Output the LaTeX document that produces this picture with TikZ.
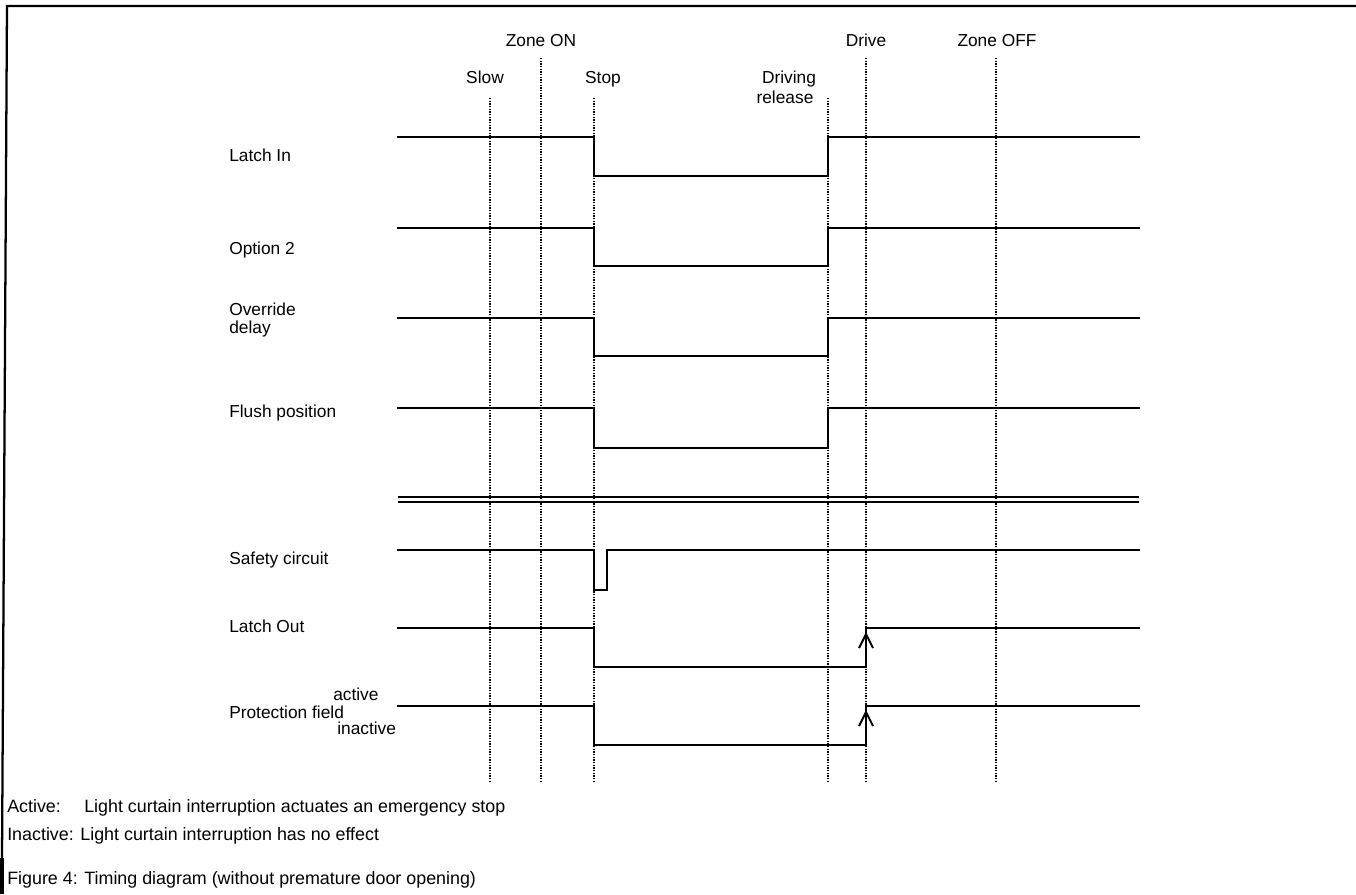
\documentclass[tikz,border=0pt]{standalone}
\usepackage{fontspec}
\setmainfont{Liberation Sans}
\begin{document}
\begin{tikzpicture}[x=0.75pt,y=-0.75pt,
  sig/.style={line width=1.5pt, line join=miter, line cap=rect},
  tline/.style={line width=1.1pt, dash pattern=on 1pt off 1pt},
  border/.style={line width=1.7pt},
  lbl/.style={anchor=base west, inner sep=0, font=\fontsize{13}{15}\selectfont},
  hdr/.style={anchor=base, inner sep=0, font=\fontsize{13}{15}\selectfont},
  note/.style={anchor=base west, inner sep=0, font=\fontsize{13.4}{16}\selectfont},
  barb/.style={line width=1.5pt, line join=miter}]
\useasboundingbox (0,0) rectangle (1356,894);

% border
\draw[border] (1356,6) -- (7,6) -- (2,860);
\draw[line width=2.4pt] (2,858) -- (2,894);

% header labels
\node[hdr] (zoneon) at (541,46) {Zone ON};
\node[hdr] (drive) at (866,46) {Drive};
\node[hdr] (zoneoff) at (997,46) {Zone OFF};
\node[hdr] (slow) at (485,83) {Slow};
\node[hdr] (stop) at (603,83) {Stop};
\node[hdr] (driving) at (789,83) {Driving};
\node[hdr] (release) at (785,103) {release};

% time markers
\coordinate (tslow) at (490,98);
\coordinate (tzon) at (541,58);
\coordinate (tstop) at (594,98);
\coordinate (trel) at (828,98);
\coordinate (tdrive) at (866,58);
\coordinate (tzoff) at (996,58);
\foreach \c in {tslow,tzon,tstop,trel,tdrive,tzoff}
  \draw[tline] (\c) -- (\c |- 0,781);

% signal labels
\node[lbl] (l1) at (229,161) {Latch In};
\node[lbl] (l2) at (229,254) {Option 2};
\node[lbl] (l3a) at (229,315) {Override};
\node[lbl] (l3b) at (229,333) {delay};
\node[lbl] (l4) at (229,417) {Flush position};
\node[lbl] (l5) at (229,564) {Safety circuit};
\node[lbl] (l6) at (229,632) {Latch Out};
\node[lbl] (l7) at (229,718) {Protection field};
\node[lbl] (l7a) at (333,700) {active};
\node[lbl] (l7b) at (337,734) {inactive};

% upper signals
\foreach \h/\l in {137/176, 228/266, 318/356, 408/448}
  \draw[sig] (398,\h) -- (594,\h) -- (594,\l) -- (828,\l) -- (828,\h) -- (1139,\h);

% separator
\draw[line width=1.5pt] (398,496.5) -- (1139,496.5);
\draw[line width=1.5pt] (398,501.5) -- (1139,501.5);

% safety circuit
\draw[sig] (398,550) -- (594,550) -- (594,590) -- (607,590) -- (607,550) -- (1139,550);

% latch out
\draw[sig] (398,628) -- (594,628) -- (594,667) -- (866,667) -- (866,628) -- (1139,628);
\draw[barb] (859,648) -- (866,634) -- (873,648);

% protection field
\draw[sig] (398,706) -- (594,706) -- (594,745) -- (866,745) -- (866,706) -- (1139,706);
\draw[barb] (859,726) -- (866,712) -- (873,726);

% notes
\node[note] (n1) at (7,812) {Active:};
\node[note] (n2) at (84,812) {Light curtain interruption actuates an emergency stop};
\node[note] (n3) at (7,840) {Inactive: Light curtain interruption has no effect};
\node[note] (n4) at (7,884) {Figure 4: Timing diagram (without premature door opening)};
\end{tikzpicture}
\end{document}
